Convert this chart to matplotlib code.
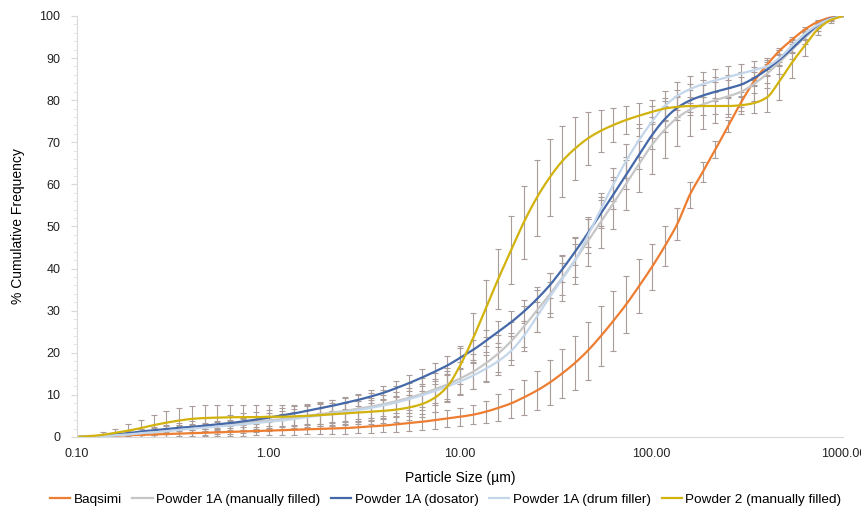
import numpy as np
import matplotlib
matplotlib.use("Agg")
import matplotlib.pyplot as plt
from matplotlib.ticker import FixedLocator, MultipleLocator, NullLocator

plt.rcParams['font.family'] = ['Liberation Sans', 'DejaVu Sans']

# particle size classes (um), 15 per decade
sizes = [0.1, 0.117, 0.136, 0.158, 0.185, 0.215, 0.251, 0.293, 0.341, 0.398,
         0.464, 0.541, 0.631, 0.736, 0.858, 1.0, 1.17, 1.36, 1.58, 1.85,
         2.15, 2.51, 2.93, 3.41, 3.98, 4.64, 5.41, 6.31, 7.36, 8.58,
         10, 11.7, 13.6, 15.8, 18.5, 21.5, 25.1, 29.3, 34.1, 39.8,
         46.4, 54.1, 63.1, 73.6, 85.8, 100, 117, 136, 158, 185,
         215, 251, 293, 341, 398, 464, 541, 631, 736, 858, 1000]

baqsimi = [0, 0.1, 0.2, 0.3, 0.4, 0.5, 0.6, 0.7, 0.8, 0.9,
           1.0, 1.1, 1.2, 1.3, 1.4, 1.5, 1.6, 1.7, 1.8, 1.9,
           2.0, 2.1, 2.3, 2.5, 2.7, 3.0, 3.3, 3.6, 4.0, 4.4,
           4.8, 5.3, 6.0, 6.9, 8.0, 9.4, 11.0, 12.9, 15.1, 17.6,
           20.5, 23.9, 27.6, 31.5, 35.8, 40.3, 45.3, 50.6, 57.5, 63.0,
           68.3, 73.9, 79.5, 84.4, 88.3, 91.7, 94.4, 96.8, 98.6, 99.6, 100]
baqsimi_err = [0, 0.2, 0.3, 0.4, 0.5, 0.6, 0.6, 0.7, 0.7, 0.8,
               0.8, 0.9, 0.9, 1.0, 1.0, 1.1, 1.1, 1.2, 1.2, 1.3,
               1.3, 1.4, 1.4, 1.5, 1.6, 1.7, 1.8, 1.9, 2.0, 2.1,
               2.2, 2.3, 2.6, 3.2, 3.5, 4.2, 4.6, 5.3, 5.8, 6.4,
               6.9, 7.1, 7.1, 6.7, 6.4, 5.5, 4.8, 3.9, 3.0, 2.4,
               2.1, 1.4, 1.2, 1.0, 0.8, 0.7, 0.6, 0.5, 0.4, 0.2, 0]

p1a_manual = [0, 0.1, 0.2, 0.4, 0.6, 0.9, 1.2, 1.5, 1.8, 2.1,
              2.4, 2.7, 3.0, 3.3, 3.6, 3.9, 4.2, 4.6, 5.0, 5.4,
              5.8, 6.2, 6.7, 7.2, 7.8, 8.5, 9.3, 10.2, 11.3, 12.5,
              13.9, 15.5, 17.5, 19.8, 22.8, 26.2, 30.0, 33.8, 37.8, 42.0,
              46.5, 51.0, 55.5, 60.2, 64.8, 69.3, 73.0, 75.8, 77.7, 79.0,
              80.0, 80.9, 82.0, 83.8, 86.2, 89.0, 92.0, 94.9, 97.5, 99.3, 100]
p1a_manual_err = [0, 0.2, 0.4, 0.6, 0.8, 1.0, 1.2, 1.4, 1.6, 1.8,
                  2.0, 2.1, 2.2, 2.3, 2.4, 2.5, 2.6, 2.7, 2.8, 2.9,
                  3.0, 3.1, 3.2, 3.3, 3.4, 3.5, 3.6, 3.7, 3.8, 3.9,
                  4.0, 4.1, 4.2, 4.4, 4.6, 4.8, 5.0, 5.2, 5.4, 5.6,
                  5.8, 6.0, 6.2, 6.4, 6.6, 6.8, 6.8, 6.6, 6.2, 5.8,
                  5.4, 5.0, 4.6, 4.0, 3.4, 2.8, 2.2, 1.6, 1.0, 0.5, 0]

p1a_dosator = [0, 0.1, 0.3, 0.6, 0.9, 1.3, 1.6, 1.9, 2.2, 2.4,
               2.7, 3.0, 3.3, 3.7, 4.1, 4.6, 5.1, 5.6, 6.2, 6.8,
               7.4, 8.1, 8.8, 9.6, 10.5, 11.6, 12.8, 14.1, 15.5, 17.0,
               18.8, 20.7, 22.8, 25.0, 27.3, 29.8, 32.7, 36.0, 39.8, 44.0,
               48.4, 53.0, 57.6, 62.3, 67.0, 71.6, 75.5, 78.2, 79.9, 81.1,
               82.0, 82.8, 83.7, 85.2, 87.2, 89.6, 92.3, 95.2, 97.8, 99.4, 100]
p1a_dosator_err = [0, 0.1, 0.2, 0.3, 0.4, 0.5, 0.5, 0.6, 0.6, 0.7,
                   0.7, 0.8, 0.8, 0.9, 0.9, 1.0, 1.0, 1.1, 1.1, 1.2,
                   1.3, 1.4, 1.5, 1.6, 1.7, 1.8, 1.9, 2.0, 2.1, 2.2,
                   2.3, 2.4, 2.5, 2.6, 2.7, 2.8, 2.9, 3.0, 3.1, 3.2,
                   3.3, 3.4, 3.5, 3.5, 3.4, 3.3, 3.0, 2.8, 2.6, 2.4,
                   2.2, 2.0, 1.8, 1.6, 1.4, 1.2, 1.0, 0.8, 0.5, 0.3, 0]

p1a_drum = [0, 0.1, 0.2, 0.4, 0.6, 0.9, 1.1, 1.4, 1.7, 2.0,
            2.2, 2.5, 2.7, 3.0, 3.3, 3.6, 3.9, 4.3, 4.7, 5.1,
            5.5, 5.9, 6.4, 6.9, 7.5, 8.2, 9.0, 9.9, 10.9, 12.0,
            13.2, 14.6, 16.2, 18.0, 20.5, 24.0, 28.5, 33.2, 37.5, 42.0,
            47.8, 54.0, 60.0, 65.6, 70.5, 74.8, 78.6, 81.0, 82.6, 83.8,
            84.7, 85.5, 86.3, 87.1, 88.0, 90.0, 93.0, 95.8, 97.9, 99.3, 100]
p1a_drum_err = [0, 0.1, 0.2, 0.3, 0.4, 0.5, 0.6, 0.7, 0.8, 0.9,
                1.0, 1.1, 1.2, 1.3, 1.4, 1.5, 1.6, 1.7, 1.8, 1.9,
                2.0, 2.1, 2.2, 2.3, 2.4, 2.5, 2.6, 2.7, 2.8, 2.9,
                3.0, 3.1, 3.2, 3.3, 3.4, 3.5, 3.6, 3.7, 3.8, 3.9,
                4.0, 4.0, 4.0, 4.0, 3.9, 3.8, 3.6, 3.4, 3.2, 3.0,
                2.8, 2.6, 2.4, 2.2, 2.0, 1.8, 1.5, 1.2, 0.8, 0.4, 0]

p2_manual = [0, 0.2, 0.5, 1.0, 1.5, 2.1, 2.8, 3.4, 3.9, 4.3,
             4.5, 4.6, 4.7, 4.7, 4.7, 4.8, 4.8, 4.9, 5.0, 5.2,
             5.4, 5.6, 5.8, 6.0, 6.2, 6.5, 7.0, 7.8, 9.3, 12.0,
             17.0, 23.5, 30.5, 37.5, 44.5, 51.0, 56.8, 61.6, 65.5, 68.5,
             70.9, 72.7, 74.1, 75.3, 76.3, 77.2, 78.0, 78.4, 78.6, 78.6,
             78.6, 78.6, 78.8, 79.3, 80.6, 84.5, 89.0, 93.0, 96.8, 99.0, 100]
p2_manual_err = [0, 0.3, 0.6, 1.0, 1.5, 2.0, 2.4, 2.7, 2.9, 3.0,
                 3.0, 3.0, 3.0, 3.0, 2.9, 2.8, 2.8, 2.7, 2.7, 2.7,
                 2.7, 2.7, 2.7, 2.8, 2.8, 2.9, 3.0, 3.1, 3.3, 3.6,
                 4.5, 6.0, 6.7, 7.2, 8.1, 8.7, 9.1, 9.1, 8.4, 7.4,
                 6.2, 5.0, 4.1, 3.3, 3.0, 2.8, 2.6, 2.4, 2.2, 2.1,
                 2.0, 2.0, 2.1, 2.4, 3.5, 4.5, 3.8, 2.5, 1.4, 0.6, 0]

series = [
    ("Baqsimi", baqsimi, baqsimi_err, "#ED7D31"),
    ("Powder 1A (manually filled)", p1a_manual, p1a_manual_err, "#C6C6C6"),
    ("Powder 1A (dosator)", p1a_dosator, p1a_dosator_err, "#4468A8"),
    ("Powder 1A (drum filler)", p1a_drum, p1a_drum_err, "#C4D6EA"),
    ("Powder 2 (manually filled)", p2_manual, p2_manual_err, "#D2B20C"),
]


def smooth(xs, ys, n=12):
    # monotone cubic through the points, in log-size space
    lx = np.log10(np.asarray(xs, float))
    y = np.asarray(ys, float)
    h = np.diff(lx)
    d = np.diff(y) / h
    m = np.zeros_like(y)
    m[0], m[-1] = d[0], d[-1]
    for i in range(1, len(y) - 1):
        if d[i - 1] * d[i] > 0:
            w1 = 2 * h[i] + h[i - 1]
            w2 = h[i] + 2 * h[i - 1]
            m[i] = (w1 + w2) / (w1 / d[i - 1] + w2 / d[i])
    out_x, out_y = [], []
    for i in range(len(y) - 1):
        t = np.linspace(0, 1, n, endpoint=False)
        h00 = 2 * t**3 - 3 * t**2 + 1
        h10 = t**3 - 2 * t**2 + t
        h01 = -2 * t**3 + 3 * t**2
        h11 = t**3 - t**2
        out_y.append(h00 * y[i] + h10 * h[i] * m[i] + h01 * y[i + 1] + h11 * h[i] * m[i + 1])
        out_x.append(lx[i] + t * h[i])
    out_x.append([lx[-1]])
    out_y.append([y[-1]])
    return 10 ** np.concatenate(out_x), np.concatenate(out_y)


fig = plt.figure(figsize=(8.62, 5.09), dpi=100)
ax = fig.add_axes([0.0893, 0.1415, 0.889, 0.8272])

for name, vals, err, col in series:
    ax.errorbar(sizes, vals, yerr=err, fmt="none", ecolor="#AA9D99",
                elinewidth=0.8, capsize=2, capthick=0.8, zorder=1)
for name, vals, err, col in series:
    sx, sy = smooth(sizes, vals)
    ax.plot(sx, sy, color=col, lw=1.6, label=name, zorder=2)

ax.set_xscale("log")
ax.set_xlim(0.1, 1000)
ax.set_ylim(0, 100)
ax.xaxis.set_major_locator(FixedLocator([0.1, 1, 10, 100, 1000]))
ax.xaxis.set_minor_locator(NullLocator())
ax.set_xticklabels(["0.10", "1.00", "10.00", "100.00", "1000.00"])
ax.yaxis.set_major_locator(MultipleLocator(10))
ax.yaxis.set_minor_locator(MultipleLocator(2))
ax.tick_params(axis="x", length=0, labelsize=9, pad=8, colors="#222222")
ax.tick_params(axis="y", which="major", length=4, color="#D9D9D9",
               labelsize=9, pad=8, labelcolor="#222222")
ax.tick_params(axis="y", which="minor", length=3, color="#E3E3E3")
for side in ("top", "right"):
    ax.spines[side].set_visible(False)
for side in ("left", "bottom"):
    ax.spines[side].set_color("#D9D9D9")
    ax.spines[side].set_linewidth(0.8)

ax.set_xlabel("Particle Size (\u00b5m)", fontsize=10, labelpad=8)
ax.set_ylabel("% Cumulative Frequency", fontsize=10, labelpad=10)

ax.legend(loc="upper center", bbox_to_anchor=(0.481, -0.105), ncol=5,
          frameon=False, fontsize=9.7, handlelength=1.5, handletextpad=0.25,
          columnspacing=0.8)

fig.savefig("out.png", dpi=100)
